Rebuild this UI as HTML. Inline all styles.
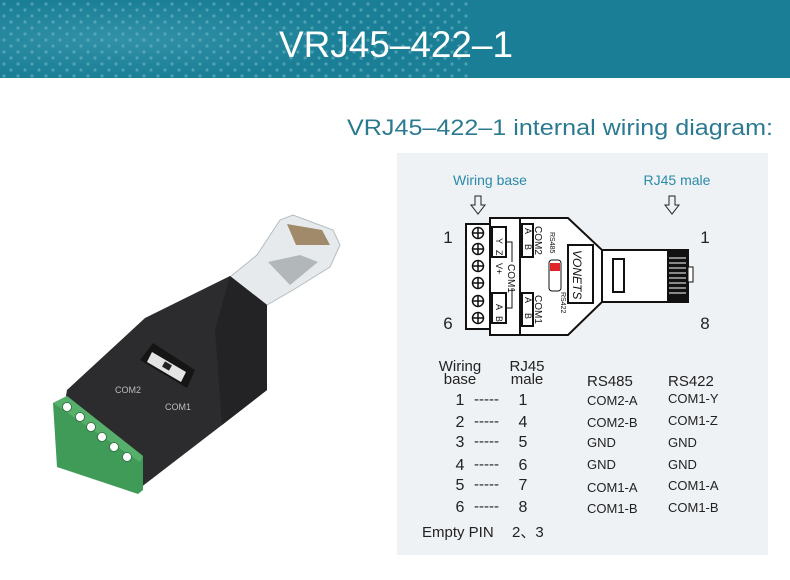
<!DOCTYPE html>
<html><head><meta charset="utf-8"><style>
html,body{margin:0;padding:0;background:#fff;width:790px;height:580px;overflow:hidden;font-family:"Liberation Sans",sans-serif}
</style></head><body>
<svg width="790" height="580" viewBox="0 0 790 580" xmlns="http://www.w3.org/2000/svg" font-family="Liberation Sans, sans-serif">
<defs>
<radialGradient id="dots" cx="0.25" cy="0.5" r="0.5"><stop offset="0" stop-color="#4aa3b8"/><stop offset="1" stop-color="#1a7f96"/></radialGradient>
<pattern id="dp" width="14" height="12" patternUnits="userSpaceOnUse"><circle cx="4" cy="4" r="1.6" fill="#6fb6c6" opacity="0.6"/><circle cx="11" cy="10" r="1.6" fill="#6fb6c6" opacity="0.6"/></pattern>
</defs>
<rect x="0" y="0" width="790" height="78" fill="#1a7f96"/>
<rect x="0" y="0" width="480" height="78" fill="url(#dots)" opacity="0.5"/>
<rect x="0" y="0" width="470" height="78" fill="url(#dp)"/>
<text x="396" y="57" font-size="37" fill="#fff" text-anchor="middle" textLength="234" lengthAdjust="spacingAndGlyphs">VRJ45–422–1</text>
<text x="347" y="135" font-size="22" fill="#2b7a92" textLength="426" lengthAdjust="spacingAndGlyphs">VRJ45–422–1 internal wiring diagram:</text>

<!-- product -->
<polygon points="230,277 257,255 280,220 293,215 333,230 340,245 330,267 293,290 267,305" fill="#e6eaec" stroke="#b5bbbf"/>
<polygon points="287,224 322,230 330,245 296,245" fill="#a08a6a"/>
<polygon points="268,262 300,255 318,262 290,285" fill="#8f969a" opacity="0.6"/>
<polygon points="67,390 145,318 230,276 267,305 267,390 222,425 140,488 60,430" fill="#2c2c2e"/>
<polygon points="230,276 267,305 267,390 222,425 215,330" fill="#232325"/>
<polygon points="53,403 67,396 143,456 143,490 138,494 57,467" fill="#3f9b57"/>
<polygon points="53,403 67,396 143,456 140,462" fill="#56b06b"/>
<g fill="#fff" stroke="#2a6b3a" stroke-width="0.8"><circle cx="67" cy="407" r="4.5"/><circle cx="80" cy="417" r="4.5"/><circle cx="91" cy="427" r="4.5"/><circle cx="102" cy="437" r="4.5"/><circle cx="114" cy="447" r="4.5"/><circle cx="127" cy="457" r="4.5"/></g>
<polygon points="153,343 195,370 187,388 140,360" fill="#151515"/>
<polygon points="152,352 186,372 181,382 147,362" fill="#e4e4e4"/>
<rect x="163" y="363" width="8" height="6" fill="#222" transform="rotate(30 167 366)"/>
<g fill="#bbb" font-size="9"><text x="115" y="393">COM2</text><text x="165" y="410">COM1</text></g>

<!-- panel -->
<rect x="397" y="153" width="371" height="402" fill="#eef2f5"/>
<text x="490" y="185" font-size="14" fill="#2a8aa8" text-anchor="middle">Wiring base</text>
<text x="677" y="185" font-size="14" fill="#2a8aa8" text-anchor="middle">RJ45 male</text>
<g fill="none" stroke="#222" stroke-width="1">
<polygon points="475,196 481,196 481,205 485,205 478,214 471,205 475,205"/>
<polygon points="669,196 675,196 675,205 679,205 672,214 665,205 669,205"/>
</g>
<g font-size="17" fill="#222" text-anchor="middle"><text x="448" y="243">1</text><text x="448" y="329">6</text><text x="705" y="243">1</text><text x="705" y="329">8</text></g>
<g fill="none" stroke="#111" stroke-width="2">
<rect x="466" y="224" width="24" height="105" fill="#fff"/>
<polygon points="490,218 568,218 602,250 602,302 568,335 490,335" fill="#fff"/>
<line x1="520" y1="218" x2="520" y2="335"/>
<rect x="602" y="250" width="86" height="52" fill="#fff"/>
<rect x="613" y="259" width="11" height="33"/>
<rect x="568" y="245" width="25" height="58"/>
<rect x="492" y="227" width="14" height="30"/><rect x="492" y="293" width="14" height="30"/>
<rect x="522" y="224" width="11" height="33"/><rect x="522" y="293" width="11" height="33"/>
</g>
<rect x="667" y="250" width="21" height="52" fill="#111"/>
<g stroke="#fff" stroke-width="1"><line x1="669" y1="258" x2="686" y2="258"/><line x1="669" y1="263" x2="686" y2="263"/><line x1="669" y1="268" x2="686" y2="268"/><line x1="669" y1="273" x2="686" y2="273"/><line x1="669" y1="278" x2="686" y2="278"/><line x1="669" y1="283" x2="686" y2="283"/><line x1="669" y1="288" x2="686" y2="288"/><line x1="669" y1="293" x2="686" y2="293"/></g>
<rect x="688" y="267" width="5" height="15" fill="#fff" stroke="#111"/>
<rect x="549" y="260" width="12" height="31" rx="3" fill="#fff" stroke="#111"/>
<rect x="550" y="263" width="10" height="8" fill="#e0242a"/>
<g fill="#fff" stroke="#111" stroke-width="1.5">
<circle cx="478" cy="233" r="5.5"/><circle cx="478" cy="249" r="5.5"/><circle cx="478" cy="266" r="5.5"/><circle cx="478" cy="283" r="5.5"/><circle cx="478" cy="301" r="5.5"/><circle cx="478" cy="318" r="5.5"/>
</g>
<g stroke="#111" stroke-width="1.5">
<path d="M472.5 233h11M478 227.5v11M472.5 249h11M478 243.5v11M472.5 266h11M478 260.5v11M472.5 283h11M478 277.5v11M472.5 301h11M478 295.5v11M472.5 318h11M478 312.5v11"/>
</g>
<path d="M506 242h6v20M506 308h6v-20" stroke="#111" fill="none"/>
<g font-size="9" fill="#111">
<text transform="translate(496,238) rotate(90)">Y</text><text transform="translate(496,250) rotate(90)">Z</text>
<text transform="translate(496,304) rotate(90)">A</text><text transform="translate(496,316) rotate(90)">B</text>
<text transform="translate(496,263) rotate(90)">V+</text>
<text transform="translate(508,264) rotate(90)" font-size="10">COM1</text>
<text transform="translate(525,228) rotate(90)">A</text><text transform="translate(525,244) rotate(90)">B</text>
<text transform="translate(525,297) rotate(90)">A</text><text transform="translate(525,313) rotate(90)">B</text>
<text transform="translate(535,226) rotate(90)" font-size="10">COM2</text>
<text transform="translate(535,295) rotate(90)" font-size="10">COM1</text>
<text transform="translate(550,232) rotate(90)" font-size="7">RS485</text>
<text transform="translate(561,292) rotate(90)" font-size="7">RS422</text>
<text transform="translate(573,250) rotate(90)" font-size="12" font-style="italic">VONETS</text>
</g>

<!-- table -->
<g font-size="15" fill="#222" text-anchor="middle">
<text x="460" y="371">Wiring</text><text x="460" y="384">base</text>
<text x="527" y="371">RJ45</text><text x="527" y="384">male</text>
</g>
<g font-size="15" fill="#222">
<text x="587" y="386">RS485</text><text x="668" y="386">RS422</text>
</g>
<g font-size="16" fill="#222" text-anchor="middle">
<text x="460" y="405">1</text><text x="523" y="405">1</text>
<text x="460" y="427">2</text><text x="523" y="427">4</text>
<text x="460" y="447">3</text><text x="523" y="447">5</text>
<text x="460" y="470">4</text><text x="523" y="470">6</text>
<text x="460" y="490">5</text><text x="523" y="490">7</text>
<text x="460" y="512">6</text><text x="523" y="512">8</text>
</g>
<g font-size="15" fill="#222">
<text x="474" y="404">-----</text><text x="474" y="426">-----</text><text x="474" y="446">-----</text>
<text x="474" y="469">-----</text><text x="474" y="489">-----</text><text x="474" y="511">-----</text>
<text x="422" y="537">Empty PIN</text><text x="512" y="537">2、3</text>
</g>
<g font-size="13" fill="#222">
<text x="587" y="405">COM2-A</text><text x="668" y="403">COM1-Y</text>
<text x="587" y="427">COM2-B</text><text x="668" y="425">COM1-Z</text>
<text x="587" y="447">GND</text><text x="668" y="447">GND</text>
<text x="587" y="469">GND</text><text x="668" y="469">GND</text>
<text x="587" y="492">COM1-A</text><text x="668" y="490">COM1-A</text>
<text x="587" y="513">COM1-B</text><text x="668" y="512">COM1-B</text>
</g>
</svg>
</body></html>
